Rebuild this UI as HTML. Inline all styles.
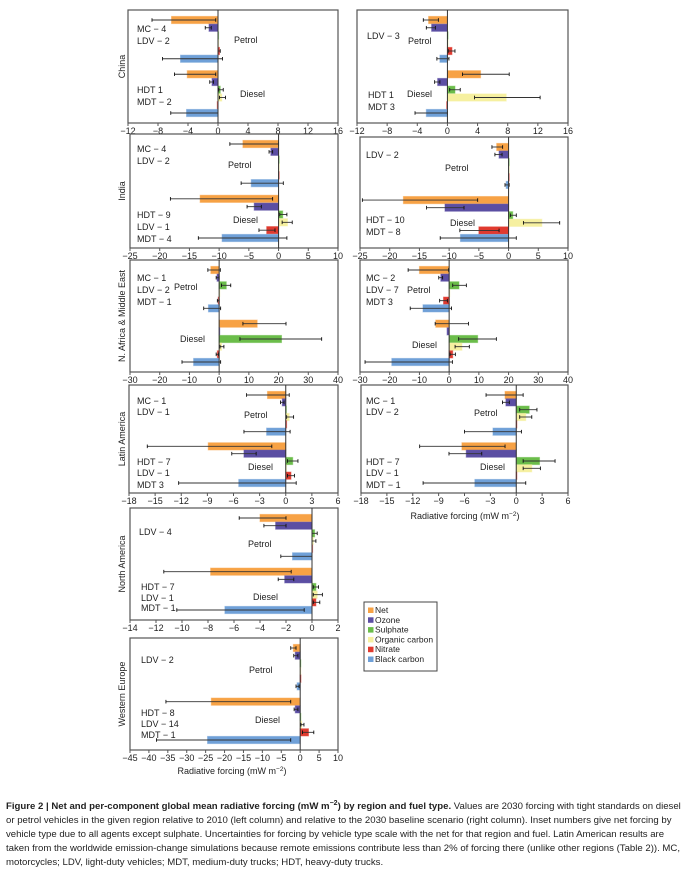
<!DOCTYPE html>
<html><head><meta charset="utf-8">
<style>
html,body{margin:0;padding:0;background:#fff;}
body{width:686px;height:868px;overflow:hidden;font-family:"Liberation Sans",sans-serif;}
svg text{font-family:"Liberation Sans",sans-serif;fill:#222;}
#caption{position:absolute;left:6px;top:797px;width:680px;font-size:9.6px;line-height:14px;color:#222;font-family:"Liberation Sans",sans-serif;}
</style></head>
<body>
<svg id="chart" width="686" height="868" viewBox="0 0 686 868"></svg>
<div id="caption"><b>Figure 2 | Net and per-component global mean radiative forcing (mW m<sup style="font-size:7px">−2</sup>) by region and fuel type.</b> Values are 2030 forcing with tight standards on diesel or petrol vehicles in the given region relative to 2010 (left column) and relative to the 2030 baseline scenario (right column). Inset numbers give net forcing by vehicle type due to all agents except sulphate. Uncertainties for forcing by vehicle type scale with the net for that region and fuel. Latin American results are taken from the worldwide emission-change simulations because remote emissions contribute less than 2% of forcing there (unlike other regions (Table 2)). MC, motorcycles; LDV, light-duty vehicles; MDT, medium-duty trucks; HDT, heavy-duty trucks.</div>
<script>
// Components (order within each fuel group)
const components = ["Net","Ozone","Sulphate","Organic carbon","Nitrate","Black carbon"];
const compColors = ["#f7a245","#5b4ea3","#6bbd4a","#f6f0a0","#e03a2f","#6fa0d8"];
const panelNames = ["china-2010","china-2030","india-2010","india-2030","nafrica-2010","nafrica-2030","latam-2010","latam-2030","namerica-2010","weurope-2010"];
// values: petrol (6) then diesel (6)
const chinaL = [-6.2,-1.2,0,0,0.2,-5.0, -4.1,-0.8,0.3,0.5,-0.1,-4.2];
const chinaR = [-2.5,-2.1,0,0,0.6,-1.0, 4.4,-1.3,1.0,7.8,-0.1,-2.8];
const indiaL = [-6.0,-1.3,0,0,0,-4.6, -13.2,-4.1,0.7,1.5,-2.0,-9.5];
const indiaR = [-2.0,-1.6,0,0,0,-0.4, -17.7,-10.7,0.7,5.6,-5.0,-8.1];
const nafrL = [-2.8,-0.7,2.4,0,-0.3,-3.6, 12.8,0.2,21.0,0.8,-0.6,-8.6];
const nafrR = [-10.0,-2.8,3.3,0,-1.9,-8.8, -4.5,-0.7,9.6,4.3,1.2,-19.3];
const latamL = [-2.1,-0.4,0,0.4,0.1,-2.2, -8.9,-4.8,0.8,0,0.6,-5.4];
const latamR = [-1.3,-1.2,1.5,1.1,0,-2.7, -6.3,-5.8,2.7,1.8,0,-4.8];
const namL = [-4.0,-2.8,0.2,0.1,0,-1.5, -7.8,-2.1,0.3,0.4,0.3,-6.7];
const weuL = [-1.8,-1.3,0,0,0.2,-0.8, -23.5,-1.3,0,0.4,2.2,-24.5];
// error bars [low, high]; null = none
const chinaLErr = [[-8.8,-0.3],[-1.7,-0.9],null,null,[0,0.3],[-7.4,0.6], [-5.8,-0.3],[-1.1,-0.6],[0.1,0.7],[0.2,1.0],null,[-6.3,0]];
const chinaRErr = [[-3.2,-1.2],[-2.8,-1.6],null,null,[0.1,1.0],[-1.4,0.2], [2.0,8.2],[-1.7,-1.0],[0.3,1.7],[3.6,12.3],null,[-4.3,0]];
const indiaLErr = [[-8.2,0],[-1.6,-1.0],null,null,null,[-6.3,0.8], [-18.2,-1.0],[-5.3,-2.9],[0.2,1.4],[0.6,2.3],[-3.3,-0.6],[-13.5,1.4]];
const indiaRErr = [[-2.8,-1.0],[-2.3,-1.1],null,null,null,[-0.6,0.1], [-24.6,-5.2],[-13.8,-7.5],[0.3,1.3],[2.5,8.6],[-8.2,-1.6],[-11.5,1.3]];
const nafrLErr = [[-3.8,0.4],[-1.0,0],[0.8,3.9],null,[-0.6,0],[-5.2,0.5], [8.0,22.5],null,[7.0,34.5],[0.3,1.6],[-1.0,-0.2],[-12.5,0.5]];
const nafrRErr = [[-13.8,-0.2],[-3.5,-2.2],[1.2,5.8],null,[-3.2,-0.6],[-13.1,0.8], [-4.7,6.5],null,[3.2,15.9],[2.0,6.8],[0.3,2.1],[-28.3,1.1]];
const latamLErr = [[-4.5,0.4],[-0.6,-0.2],null,[0.1,0.9],null,[-4.8,0.5], [-15.9,-1.6],[-6.2,-3.4],[0.2,1.4],null,[0.2,1.0],[-12.3,1.2]];
const latamRErr = [[-3.5,0.8],[-1.6,-0.8],[0.4,2.4],[0.4,1.8],null,[-6.0,0.6], [-11.2,-1.3],[-7.8,-4.0],[0.8,4.5],[0.8,2.8],null,[-10.8,1.1]];
const namLErr = [[-5.6,-2.0],[-3.7,-2.0],[0,0.4],[0,0.3],null,[-2.4,0], [-11.4,-1.6],[-2.6,-1.4],[0.1,0.5],[0.1,0.8],[0.1,0.6],[-10.4,-0.6]];
const weuLErr = [[-2.5,-1.1],[-1.7,-0.6],null,null,null,[-1.1,-0.3], [-35.5,-2.5],[-1.6,-0.6],null,[0.2,1.0],[0.6,3.6],[-38,-2.5]];
// axis tick labels
const ticksChina = [-12,-8,-4,0,4,8,12,16];
const ticksIndia = [-25,-20,-15,-10,-5,0,5,10];
const ticksNafr = [-30,-20,-10,0,10,20,30,40];
const ticksLatam = [-18,-15,-12,-9,-6,-3,0,3,6];
const ticksNam = [-14,-12,-10,-8,-6,-4,-2,0,2];
const ticksWeu = [-45,-40,-35,-30,-25,-20,-15,-10,-5,0,5,10];

const NS="http://www.w3.org/2000/svg";
const svg=document.getElementById('chart');
function el(tag,attrs,parent){const e=document.createElementNS(NS,tag);for(const k in attrs)e.setAttribute(k,attrs[k]);(parent||svg).appendChild(e);return e;}

const panels=[
 {vals:chinaL,err:chinaLErr,ticks:ticksChina,x0:128,x1:338,y0:10,y1:123,region:"China",labels:[["MC − 4",137,32],["LDV − 2",137,44],["Petrol",234,43],["HDT 1",137,93],["MDT − 2",137,105],["Diesel",240,97]]},
 {vals:chinaR,err:chinaRErr,ticks:ticksChina,x0:357,x1:568,y0:10,y1:123,labels:[["LDV − 3",367,39],["Petrol",408,44],["HDT 1",368,98],["MDT 3",368,110],["Diesel",407,97]]},
 {vals:indiaL,err:indiaLErr,ticks:ticksIndia,x0:130,x1:338,y0:134,y1:248,region:"India",labels:[["MC − 4",137,152],["LDV − 2",137,164],["Petrol",228,168],["HDT − 9",137,218],["LDV − 1",137,230],["MDT − 4",137,242],["Diesel",233,223]]},
 {vals:indiaR,err:indiaRErr,ticks:ticksIndia,x0:360,x1:568,y0:137,y1:248,labels:[["LDV − 2",366,158],["Petrol",445,171],["HDT − 10",366,223],["MDT − 8",366,235],["Diesel",450,226]]},
 {vals:nafrL,err:nafrLErr,ticks:ticksNafr,x0:130,x1:338,y0:260,y1:372,region:"N. Africa & Middle East",labels:[["MC − 1",137,281],["LDV − 2",137,293],["MDT − 1",137,305],["Petrol",174,290],["Diesel",180,342]]},
 {vals:nafrR,err:nafrRErr,ticks:ticksNafr,x0:360,x1:568,y0:260,y1:372,labels:[["MC − 2",366,281],["LDV − 7",366,293],["MDT 3",366,305],["Petrol",407,293],["Diesel",412,348]]},
 {vals:latamL,err:latamLErr,ticks:ticksLatam,x0:129,x1:338,y0:385,y1:493,region:"Latin America",labels:[["MC − 1",137,404],["LDV − 1",137,415],["Petrol",244,418],["HDT − 7",137,465],["LDV − 1",137,476],["MDT 3",137,488],["Diesel",248,470]]},
 {vals:latamR,err:latamRErr,ticks:ticksLatam,x0:361,x1:568,y0:385,y1:493,labels:[["MC − 1",366,404],["LDV − 2",366,415],["Petrol",474,416],["HDT − 7",366,465],["LDV − 1",366,476],["MDT − 1",366,488],["Diesel",480,470]]},
 {vals:namL,err:namLErr,ticks:ticksNam,x0:130,x1:338,y0:508,y1:620,region:"North America",labels:[["LDV − 4",139,535],["Petrol",248,547],["HDT − 7",141,590],["LDV − 1",141,601],["MDT − 1",141,611],["Diesel",253,600]]},
 {vals:weuL,err:weuLErr,ticks:ticksWeu,x0:130,x1:338,y0:638,y1:750,region:"Western Europe",labels:[["LDV − 2",141,663],["Petrol",249,673],["HDT − 8",141,716],["LDV − 14",141,727],["MDT − 1",141,738],["Diesel",255,723]]}
];

panels.forEach((p,pi)=>{
  const g=el('g',{});
  
  
  const dmin=p.ticks[0], dmax=p.ticks[p.ticks.length-1];
  const xs=v=>p.x0+(v-dmin)/(dmax-dmin)*(p.x1-p.x0);
  const pitch=(p.y1-p.y0-20)/12;
  const slotY=i=>p.y0+10+(i<6?i:i+1)*pitch;
  const frame=el('rect',{x:p.x0,y:p.y0,width:p.x1-p.x0,height:p.y1-p.y0,fill:'none',stroke:'#555','stroke-width':1.2},g);
  
  
  p.vals.forEach((v,i)=>{
    const c=i%6, y=slotY(i);
    const a=xs(Math.min(0,v)), b=xs(Math.max(0,v));
    const r=el('rect',{x:a,y:y-3.6,width:Math.max(b-a,0.6),height:7.2,fill:compColors[c],stroke:compColors[c],'stroke-opacity':0.5,'stroke-width':1},g);
    
    
    const e=p.err[i];
    if(e){
      const l=el('line',{x1:xs(e[0]),x2:xs(e[1]),y1:y,y2:y,stroke:'#333','stroke-width':0.9},g);
      
      
      [e[0],e[1]].forEach(ev=>{el('line',{x1:xs(ev),x2:xs(ev),y1:y-1.8,y2:y+1.8,stroke:'#111','stroke-width':0.9},g);});
    }
  });
  const z=el('line',{x1:xs(0),x2:xs(0),y1:p.y0,y2:p.y1,stroke:'#333','stroke-width':1},g);
  
  
  p.ticks.forEach(t=>{
    el('line',{x1:xs(t),x2:xs(t),y1:p.y1,y2:p.y1+3,stroke:'#555','stroke-width':1},g);
    const tx=el('text',{x:xs(t),y:p.y1+11,'font-size':9,'text-anchor':'middle'},g);
    tx.textContent=(t<0?'−'+(-t):''+t);
    
    
  });
  p.labels.forEach(l=>{
    const t=el('text',{x:l[1],y:l[2],'font-size':9},g);
    t.textContent=l[0];
    
    
  });
  if(p.region){
    const cy=(p.y0+p.y1)/2;
    const t=el('text',{x:125,y:cy,'font-size':9,'text-anchor':'middle',transform:'rotate(-90 125 '+cy+')'},g);
    t.textContent=p.region;
    
    
  }
});

[[232,774],[465,519]].forEach(a=>{
  const t=el('text',{x:a[0],y:a[1],'font-size':9,'text-anchor':'middle'});
  t.innerHTML='Radiative forcing (mW m<tspan dy="-3" font-size="6.5">−2</tspan><tspan dy="3">)</tspan>';
  
  
});

const lg=el('g',{});


el('rect',{x:364,y:602,width:73,height:69,fill:'#fff',stroke:'#444','stroke-width':1},lg);
components.forEach((c,i)=>{
  const y=611+i*9.8;
  const sw=el('rect',{x:368,y:y-3.5,width:5.5,height:5.5,fill:compColors[i]},lg);
  
  
  const t=el('text',{x:375,y:y+2,'font-size':8.5},lg);
  t.textContent=c;
  
  
});
</script>
</body></html>
